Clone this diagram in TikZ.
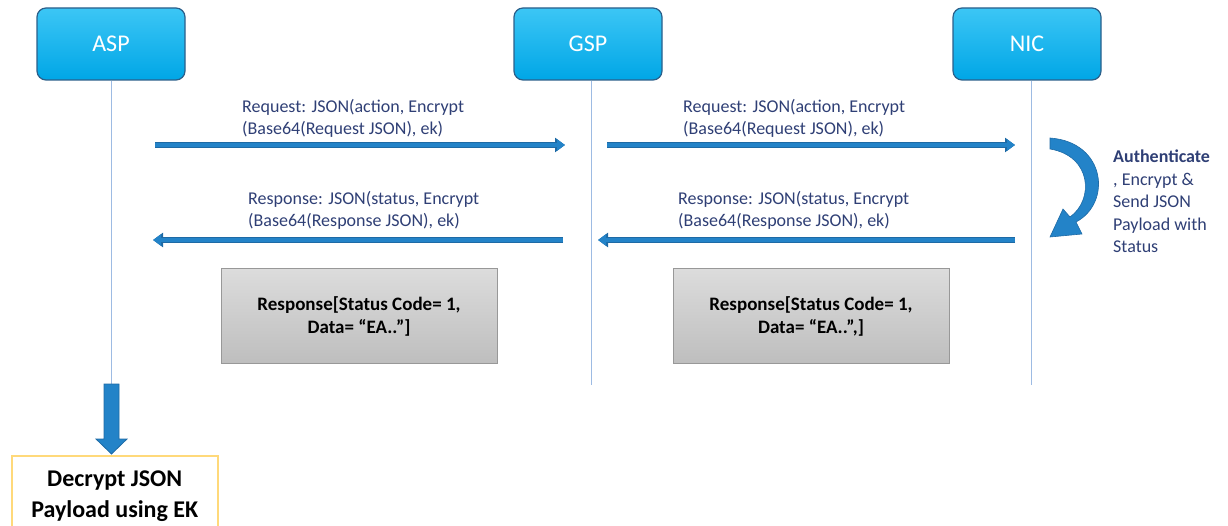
\documentclass[tikz,border=0pt]{standalone}
\usepackage{fontspec}
\setmainfont{Carlito}
\usetikzlibrary{arrows.meta,calc}
\definecolor{boxcyanA}{HTML}{3CC6F5}
\definecolor{boxcyanB}{HTML}{00A6E6}
\definecolor{boxedge}{HTML}{2B5F8A}
\definecolor{lifeblue}{HTML}{9DBBE3}
\definecolor{arrblue}{HTML}{2383C8}
\definecolor{arredge}{HTML}{1E6AA5}
\definecolor{navy}{HTML}{2F3F75}
\definecolor{grayA}{HTML}{DCDCDC}
\definecolor{grayB}{HTML}{BEBEBE}
\definecolor{ybord}{HTML}{FFD97A}
\tikzset{
  actor/.style={draw=boxedge, line width=1.2pt, rounded corners=9pt, top color=boxcyanA, bottom color=boxcyanB, minimum width=148pt, minimum height=72pt, text=white, font=\fontsize{24}{26}\selectfont},
  lifeline/.style={draw=lifeblue, line width=1pt},
  msg/.style={draw=arredge, line width=5.5pt, -{Triangle[width=14pt,length=10pt]}},
  msginner/.style={draw=arrblue, line width=3.5pt, -{Triangle[width=11pt,length=8pt]}},
  lbl/.style={text=navy, align=left, anchor=north west, inner sep=0pt, font=\fontsize{18}{22.5}\selectfont},
  graybox/.style={top color=grayA, bottom color=grayB, draw=grayB!80!black, line width=0.4pt, minimum width=276pt, minimum height=95pt, align=center, font=\fontsize{19}{23}\selectfont\bfseries},
  notebox/.style={draw=ybord, line width=1.5pt, fill=white, align=center, font=\fontsize{24}{31}\selectfont\bfseries},
}
\begin{document}
\begin{tikzpicture}[x=1pt,y=-1pt]
\useasboundingbox (0,0) rectangle (1228,526);
% actors
\node[actor] (asp) at (111,44) {ASP};
\node[actor] (gsp) at (588,44) {GSP};
\node[actor] (nic) at (1027,44) {NIC};
% lifelines
\coordinate (aspend) at (111,385);
\coordinate (gspend) at (591,385);
\coordinate (nicend) at (1031,385);
\draw[lifeline] (asp.south) -- (aspend);
\draw[lifeline] (gsp.south -| gspend) -- (gspend);
\draw[lifeline] (nic.south -| nicend) -- (nicend);
% message coordinates
\coordinate (r1s) at (155,145); \coordinate (r1e) at (565,145);
\coordinate (r2s) at (607,145); \coordinate (r2e) at (1015,145);
\coordinate (p1s) at (563,240); \coordinate (p1e) at (153,240);
\coordinate (p2s) at (1015,240); \coordinate (p2e) at (598,240);
\foreach \a/\b in {r1s/r1e,r2s/r2e,p1s/p1e,p2s/p2e}{
  \draw[msg] (\a) -- (\b);
  \draw[msginner] (\a) -- (\b);
}
% labels
\node[lbl] (l1) at (242,99) {Request: JSON(action, Encrypt\\(Base64(Request JSON), ek)};
\node[lbl] (l2) at (683,99) {Request: JSON(action, Encrypt\\(Base64(Request JSON), ek)};
\node[lbl] (l3) at (248,191) {Response: JSON(status, Encrypt\\(Base64(Response JSON), ek)};
\node[lbl] (l4) at (678,191) {Response: JSON(status, Encrypt\\(Base64(Response JSON), ek)};
% curved arrow
\fill[arrblue, draw=arredge, line width=0.6pt] (1050,138) .. controls (1106,142) and (1112,203) .. (1076,222)
  -- (1082,234) -- (1050,237) -- (1063,209) -- (1070,217)
  .. controls (1094,200) and (1092,156) .. (1050,149) -- cycle;
\node[text=navy, align=left, anchor=north west, inner sep=0pt, font=\fontsize{18}{22.5}\selectfont] (auth) at (1113,150)
  {\textbf{Authenticate}\\, Encrypt \&\\Send JSON\\Payload with\\Status};
% gray boxes
\node[graybox] (g1) at (359,316) {Response[Status Code= 1,\\Data= “EA..”]};
\node[graybox] (g2) at (811,316) {Response[Status Code= 1,\\Data= “EA..”,]};
% decrypt box
\node[notebox, minimum width=206pt, minimum height=80pt, anchor=north west] (dec) at (11,455) {Decrypt JSON\\Payload using EK};
% fat down arrow
\fill[arrblue, draw=arredge, line width=0.8pt] (104,384) -- (119,384) -- (119,439) -- (127,439) -- (111.5,454) -- (96,439) -- (104,439) -- cycle;
\end{tikzpicture}
\end{document}
